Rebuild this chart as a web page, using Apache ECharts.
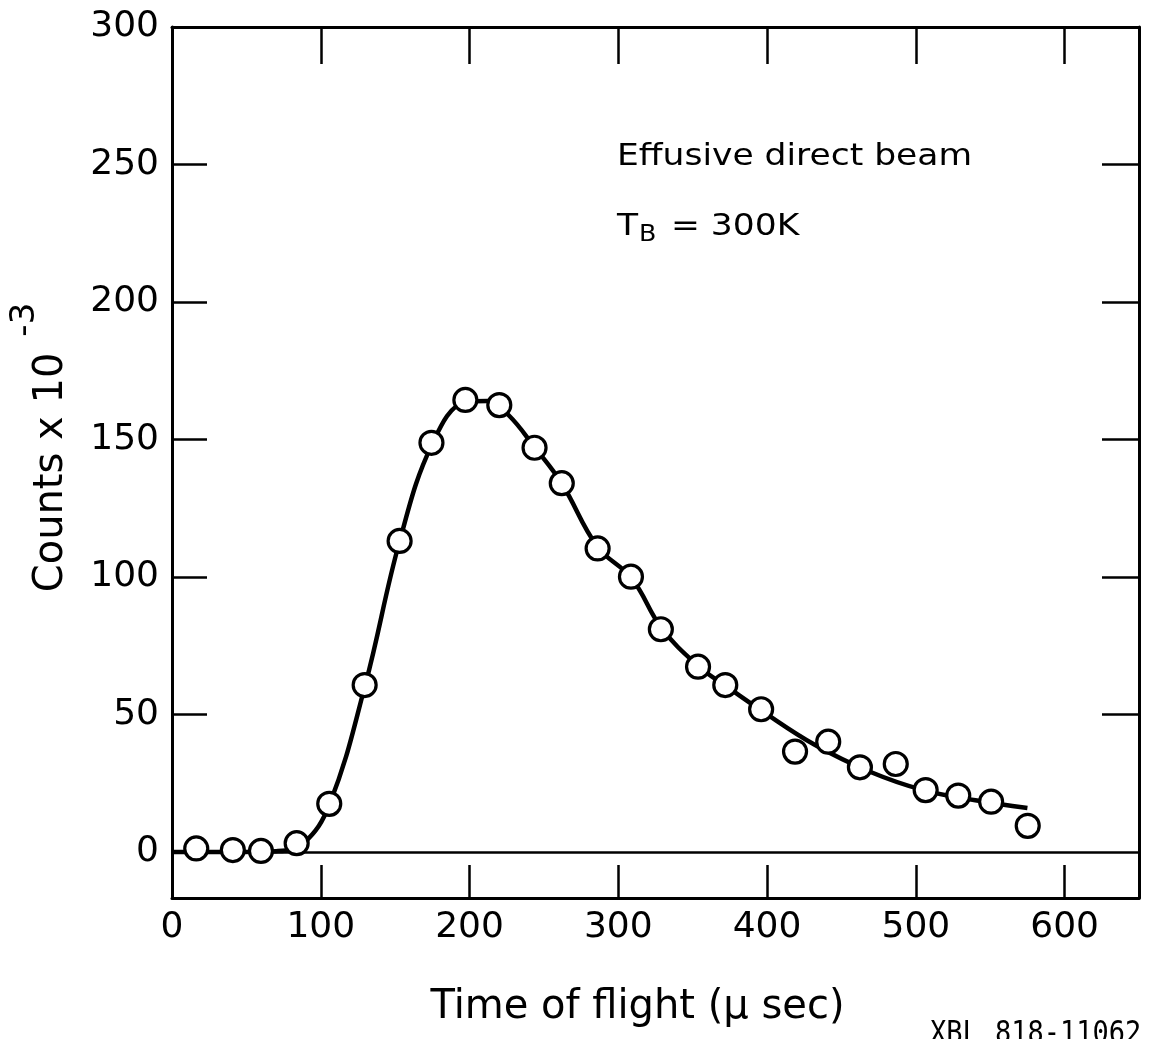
<!DOCTYPE html>
<html>
<head>
<meta charset="utf-8">
<script src="https://cdn.jsdelivr.net/npm/echarts@6/dist/echarts.min.js"></script>
<style>
html,body{margin:0;padding:0;background:#fff;}
#chart{width:1152px;height:1039px;}
</style>
</head>
<body>
<div id="chart"></div>
<script>
// Measured data points (time of flight in microseconds, counts x 10^-3)
const timeUs = [16.3, 40.9, 59.8, 83.8, 105.7, 129.5, 153.0, 174.4, 197.2, 220.0, 243.7, 262.0, 286.1, 308.5, 328.6, 353.6, 371.9, 396.0, 418.8, 441.1, 462.4, 486.5, 506.6, 528.5, 550.6, 575.2];
const counts = [1.3, 0.7, 0.4, 3.2, 17.5, 60.7, 113.1, 148.8, 164.4, 162.5, 147.0, 134.1, 110.4, 100.1, 81.0, 67.4, 60.7, 51.9, 36.5, 40.1, 30.8, 32.0, 22.5, 20.5, 18.3, 9.5];

// Smooth fitted curve drawn through the data
const fitTime = [0, 40, 70, 88, 106, 130, 153, 175, 197, 212, 226, 244, 262, 286, 309, 329, 354, 372, 396, 432, 470, 505, 540, 575];
const fitCounts = [0, 0, 0.3, 3, 17.5, 61, 113, 148.5, 163.5, 164, 159, 147, 134, 111, 99.5, 81.5, 67.5, 60.5, 51.5, 39, 29, 22.5, 18.8, 16];

// Tick values and labels
const xTicks = [0, 100, 200, 300, 400, 500, 600];
const yTicks = [0, 50, 100, 150, 200, 250, 300];
const xTitle = 'Time of flight (\u03bc sec)';
const yTitle = 'Counts x 10';
const yTitleExp = '-3';
const noteLine1 = 'Effusive direct beam';
const noteT = 'T';
const noteSub = 'B';
const noteRest = '= 300K';
const refCode = 'XBL 818-11062';

const FONT = '"DejaVu Sans", sans-serif';
const chart = echarts.init(document.getElementById('chart'), null, {renderer: 'canvas'});

const pts = timeUs.map((t, i) => [t, counts[i]]);
const fit = fitTime.map((t, i) => [t, fitCounts[i]]);

const lineBlack = {color: '#000', width: 3};

chart.setOption({
  backgroundColor: '#fff',
  animation: false,
  grid: {left: 169, top: 27, width: 970, height: 871, containLabel: false},
  xAxis: [
    {
      type: 'value', position: 'bottom', min: 0, max: 650,
      axisLine: {show: true, onZero: false, lineStyle: lineBlack},
      axisTick: {show: true, inside: true, length: 33, customValues: xTicks, lineStyle: {color: '#000', width: 2.5}},
      axisLabel: {show: true, customValues: xTicks, margin: 12, color: '#000', fontSize: 36, fontFamily: FONT},
      splitLine: {show: false},
      name: xTitle, nameLocation: 'middle', nameGap: 90,
      nameTextStyle: {color: '#000', fontSize: 40, fontFamily: FONT, padding: [0, 36, 0, 0]}
    },
    {
      type: 'value', position: 'top', min: 0, max: 650,
      axisLine: {show: true, onZero: false, lineStyle: lineBlack},
      axisTick: {show: true, inside: true, length: 37, customValues: xTicks, lineStyle: {color: '#000', width: 2.5}},
      axisLabel: {show: false},
      splitLine: {show: false}
    }
  ],
  yAxis: [
    {
      type: 'value', position: 'left', min: -16.73, max: 300,
      axisLine: {show: true, onZero: false, lineStyle: lineBlack},
      axisTick: {show: true, inside: true, length: 35, customValues: yTicks.slice(1), lineStyle: {color: '#000', width: 2.5}},
      axisLabel: {show: true, customValues: yTicks, margin: 13, color: '#000', fontSize: 36, fontFamily: FONT},
      splitLine: {show: false},
      name: '{a|' + yTitle + '}{s|' + yTitleExp + '}',
      nameLocation: 'middle', nameRotate: 90, nameGap: 100,
      nameTextStyle: {
        color: '#000', fontFamily: FONT, fontSize: 40, padding: [0, 0, 0, 30],
        rich: {
          a: {fontSize: 40, fontFamily: FONT, color: '#000', lineHeight: 64, verticalAlign: 'bottom'},
          s: {fontSize: 34, fontFamily: FONT, color: '#000', lineHeight: 64, verticalAlign: 'top', padding: [0, 0, 0, 16]}
        }
      }
    },
    {
      type: 'value', position: 'right', min: -16.73, max: 300,
      axisLine: {show: true, onZero: false, lineStyle: lineBlack},
      axisTick: {show: true, inside: true, length: 37, customValues: yTicks.slice(1), lineStyle: {color: '#000', width: 2.5}},
      axisLabel: {show: false},
      splitLine: {show: false}
    }
  ],
  series: [
    {
      type: 'line', xAxisIndex: 0, yAxisIndex: 0, data: fit,
      smooth: 0.4, showSymbol: false, silent: true,
      lineStyle: {color: '#000', width: 4.5}, z: 2,
      markLine: {
        silent: true, symbol: ['none', 'none'], label: {show: false},
        lineStyle: {color: '#000', width: 2.5, type: 'solid'},
        data: [{yAxis: 0}]
      }
    },
    {
      type: 'scatter', xAxisIndex: 0, yAxisIndex: 0, data: pts,
      symbol: 'circle', symbolSize: 23,
      itemStyle: {color: '#fff', borderColor: '#000', borderWidth: 3.2, opacity: 1},
      z: 5
    }
  ],
  graphic: [
    {type: 'text', x: 617, y: 157, scaleX: 1.15, style: {text: noteLine1, x: 0, y: 0, fill: '#000', font: '30px ' + FONT, verticalAlign: 'middle', align: 'left'}},
    {type: 'text', x: 617, y: 227, scaleX: 1.15, style: {text: noteT, x: 0, y: 0, fill: '#000', font: '30px ' + FONT, verticalAlign: 'middle', align: 'left'}},
    {type: 'text', x: 639, y: 235, scaleX: 1.1, style: {text: noteSub, x: 0, y: 0, fill: '#000', font: '23px ' + FONT, verticalAlign: 'middle', align: 'left'}},
    {type: 'text', x: 671, y: 227, scaleX: 1.15, style: {text: noteRest, x: 0, y: 0, fill: '#000', font: '30px ' + FONT, verticalAlign: 'middle', align: 'left'}},
    {type: 'text', x: 930, y: 1019, scaleY: 1.15, style: {text: refCode, x: 0, y: 0, fill: '#000', font: '27px "DejaVu Sans Mono", monospace', verticalAlign: 'top', align: 'left'}}
  ]
});
</script>
</body>
</html>
